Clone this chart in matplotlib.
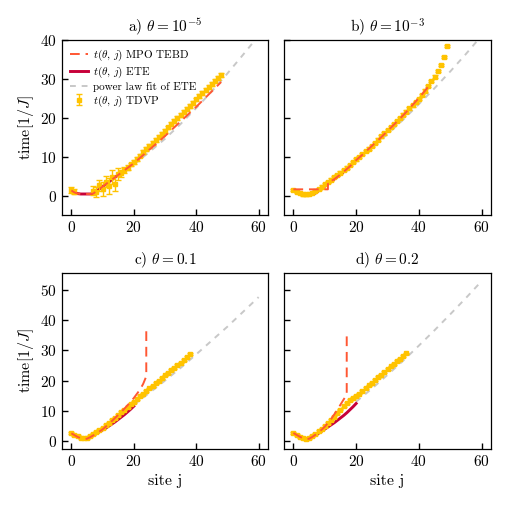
import matplotlib
matplotlib.use("Agg")
import matplotlib.pyplot as plt
import numpy as np

plt.rcParams['font.family'] = 'serif'
plt.rcParams['font.serif'] = ['cmr10', 'DejaVu Serif']
plt.rcParams['mathtext.fontset'] = 'cm'
plt.rcParams['axes.formatter.use_mathtext'] = True
plt.rcParams['axes.unicode_minus'] = False

C_TEBD = '#FF5733'
C_ETE = '#C70039'
C_TDVP = '#FFC300'
C_FIT = '#C8C8C8'

titles = [r'a) $\theta = 10^{-5}$', r'b) $\theta = 10^{-3}$', r'c) $\theta = 0.1$', r'd) $\theta = 0.2$']

# ---------------- data ----------------
ete_x = list(range(0, 21))
ete_a = [1.3, 0.8, 0.5, 0.4, 0.4, 0.4, 0.4, 0.5, 1.1, 1.7, 2.3, 2.9, 3.5, 4.1, 4.7, 5.3, 5.9, 6.5, 7.1, 7.8, 8.5]
ete_b = [1.3, 0.8, 0.5, 0.3, 0.3, 0.3, 0.4, 0.6, 1.2, 1.8, 2.4, 3.0, 3.6, 4.2, 4.8, 5.4, 6.1, 6.8, 7.5, 8.3, 9.1]
ete_c = [2.5, 1.9, 1.3, 0.9, 0.6, 0.7, 1.2, 1.8, 2.4, 3.0, 3.6, 4.2, 4.9, 5.6, 6.3, 7.1, 7.9, 8.7, 9.6, 10.5, 11.5]
ete_d = [2.6, 2.0, 1.4, 0.9, 0.6, 0.7, 1.3, 1.9, 2.5, 3.2, 3.9, 4.6, 5.3, 6.0, 6.8, 7.6, 8.4, 9.3, 10.3, 11.3, 12.4]

tebd_a_x = [0, 1, 2, 3, 4, 5, 6, 7, 8, 10, 12, 14, 16, 18, 20, 22, 24, 26, 28, 30, 32, 34, 36, 38, 40, 42, 44, 46, 48]
tebd_a = [1.3, 0.8, 0.5, 0.4, 0.4, 0.4, 0.4, 0.5, 1.1, 2.3, 3.5, 4.7, 5.9, 7.1, 8.3, 9.7, 11.1, 12.5, 13.9, 15.3, 16.8, 18.3, 19.8, 21.3, 22.8, 24.4, 26.0, 27.6, 29.2]
tebd_b_x = [0, 2, 4, 6, 8, 10, 11, 11, 12, 12, 13, 14, 16, 18, 20, 22, 24, 26, 28, 30, 32, 34, 36, 38, 40, 42, 44]
tebd_b = [1.6, 1.6, 1.6, 1.6, 1.6, 1.6, 1.6, 3.0, 3.0, 3.7, 4.2, 4.8, 6.1, 7.5, 9.1, 10.5, 12.0, 13.5, 15.0, 16.6, 18.2, 19.8, 21.5, 23.3, 25.1, 27.0, 29.0]
tebd_c_x = [0, 1, 2, 3, 4, 5, 6, 7, 8, 9, 10, 12, 14, 16, 18, 20, 22, 23, 24, 24]
tebd_c = [2.5, 1.9, 1.3, 0.9, 0.6, 0.7, 1.2, 1.8, 2.4, 3.1, 3.8, 5.6, 7.6, 9.6, 11.8, 14.2, 17.0, 18.9, 21.4, 36.5]
tebd_d_x = [0, 1, 2, 3, 4, 5, 6, 7, 8, 9, 10, 12, 14, 15, 16, 17, 17]
tebd_d = [2.6, 2.0, 1.4, 0.9, 0.6, 0.7, 1.3, 2.0, 2.8, 3.7, 4.7, 7.2, 10.3, 12.0, 13.7, 15.3, 36.0]

fit_x = [20, 25, 30, 35, 40, 45, 50, 55, 60]
fit_a = [8.0, 11.2, 14.6, 18.4, 22.5, 26.8, 31.4, 36.2, 41.1]
fit_b = [9.0, 12.3, 15.8, 19.5, 23.5, 27.6, 31.9, 36.4, 41.1]
fit_c = [12.0, 15.9, 20.0, 24.2, 28.7, 33.3, 37.9, 42.8, 47.7]
fit_d = [13.0, 17.3, 21.9, 26.6, 31.6, 36.7, 42.0, 47.4, 53.0]

tdvp_a_x = [0, 1, 7, 8, 9, 10, 11, 12, 13, 14, 15, 16, 17, 18, 19, 20, 21, 22, 23, 24, 25, 26, 27, 28, 29, 30,
            31, 32, 33, 34, 35, 36, 37, 38, 39, 40, 41, 42, 43, 44, 45, 46, 47, 48]
tdvp_a = [1.5, 1.0, 1.3, 0.9, 2.6, 1.8, 3.6, 2.4, 4.9, 3.1, 5.6, 5.7, 6.5, 7.2, 8.0, 8.7, 9.5, 10.3, 11.1, 11.9, 12.7, 13.5, 14.3, 15.1, 15.9, 16.7,
          17.5, 18.3, 19.1, 19.9, 20.7, 21.5, 22.3, 23.1, 23.9, 24.7, 25.5, 26.3, 27.1, 27.9, 28.7, 29.5, 30.2, 30.9]
tdvp_a_err = [0.8, 0.6, 1.2, 1.2, 1.5, 1.8, 1.5, 2.0, 1.8, 2.0, 1.5, 1.0, 0.8, 0.6, 0.5, 0.5, 0.5, 0.5, 0.5, 0.5, 0.5, 0.5, 0.5, 0.5, 0.5, 0.5,
              0.5, 0.5, 0.5, 0.5, 0.5, 0.5, 0.5, 0.5, 0.5, 0.5, 0.5, 0.5, 0.5, 0.5, 0.5, 0.5, 0.5, 0.5]
tdvp_b_x = list(range(0, 50))
tdvp_b = [1.5, 1.0, 0.6, 0.3, 0.3, 0.4, 0.6, 1.1, 1.7, 2.3, 2.9, 3.5, 4.1, 4.7, 5.3, 5.9, 6.5, 7.2, 7.9, 8.6, 9.3, 10.0, 10.7, 11.4, 12.1, 12.8,
          13.6, 14.4, 15.2, 16.0, 16.8, 17.6, 18.4, 19.2, 20.0, 20.8, 21.6, 22.4, 23.2, 24.0, 24.9, 25.9, 27.0, 28.2, 29.4, 30.6, 32.0, 33.6, 35.6, 38.5]
tdvp_b_err = [0.3] * 50
tdvp_c_x = list(range(0, 39))
tdvp_c = [2.5, 2.0, 1.5, 1.0, 0.8, 0.9, 1.5, 2.2, 2.9, 3.6, 4.4, 5.2, 6.0, 6.9, 7.7, 8.6, 9.5, 10.4, 11.3, 12.2, 13.0, 13.9, 14.8, 15.7, 16.5, 17.4,
          18.3, 19.2, 20.0, 20.9, 21.7, 22.6, 23.4, 24.3, 25.1, 26.0, 26.9, 27.9, 28.8]
tdvp_c_err = [0.3] * 39
tdvp_d_x = list(range(0, 37))
tdvp_d = [2.6, 2.0, 1.4, 0.9, 0.7, 0.9, 1.6, 2.4, 3.2, 4.1, 5.0, 6.0, 7.0, 8.0, 9.2, 10.4, 11.6, 12.6, 13.5, 14.2, 14.8, 15.7, 16.6, 17.5, 18.4, 19.3,
          20.2, 21.1, 22.0, 22.9, 23.8, 24.7, 25.6, 26.5, 27.3, 28.1, 29.0]
tdvp_d_err = [0.3] * 37

panels = [
    (tebd_a_x, tebd_a, ete_a, fit_a, tdvp_a_x, tdvp_a, tdvp_a_err),
    (tebd_b_x, tebd_b, ete_b, fit_b, tdvp_b_x, tdvp_b, tdvp_b_err),
    (tebd_c_x, tebd_c, ete_c, fit_c, tdvp_c_x, tdvp_c, tdvp_c_err),
    (tebd_d_x, tebd_d, ete_d, fit_d, tdvp_d_x, tdvp_d, tdvp_d_err),
]

fig = plt.figure(figsize=(5.07, 5.07), dpi=100)
W = 507.0
rects = [
    (62 / W, 1 - 215 / W, 206 / W, 175 / W),
    (284 / W, 1 - 215 / W, 207 / W, 175 / W),
    (62 / W, 1 - 449 / W, 206 / W, 176 / W),
    (284 / W, 1 - 449 / W, 207 / W, 176 / W),
]

for i, (rect, p) in enumerate(zip(rects, panels)):
    tx, ty, ete, fit, dx, dy, de = p
    ax = fig.add_axes(rect)
    ax.plot(tx, ty, color=C_TEBD, ls=(0, (5, 3)), lw=1.4, label=r'$t(\theta,\, j)$ MPO TEBD', zorder=3)
    ax.plot(ete_x, ete, color=C_ETE, lw=2.1, label=r'$t(\theta,\, j)$ ETE', zorder=2)
    ax.plot(fit_x, fit, color=C_FIT, ls=(0, (3, 3)), lw=1.4, label='power law fit of ETE', zorder=1)
    ax.errorbar(dx, dy, yerr=de, fmt='s', color=C_TDVP, ms=2.5, capsize=2.0, elinewidth=1.0,
                capthick=1.0, label=r'$t(\theta,\, j)$ TDVP', zorder=2.5)
    ax.set_xlim(-3, 63)
    if i < 2:
        ax.set_ylim(-5, 40)
        ax.set_yticks([0, 10, 20, 30, 40])
    else:
        ax.set_ylim(-2.7, 55.7)
        ax.set_yticks([0, 10, 20, 30, 40, 50])
    ax.set_xticks([0, 20, 40, 60])
    ax.tick_params(direction='in', labelsize=11, length=4, width=1)
    for s in ax.spines.values():
        s.set_linewidth(0.9)
    ax.set_title(titles[i], fontsize=11, pad=6)
    if i % 2 == 0:
        ax.set_ylabel(r'time$[1/J]$', fontsize=11.5, labelpad=3)
    else:
        ax.tick_params(labelleft=False)
    if i >= 2:
        ax.set_xlabel('site j', fontsize=11.5)
    if i == 0:
        ax.legend(loc='upper left', fontsize=8, frameon=False, handlelength=1.6,
                  handletextpad=0.5, borderaxespad=0.3, labelspacing=0.15)

fig.savefig('out.png', dpi=100)
